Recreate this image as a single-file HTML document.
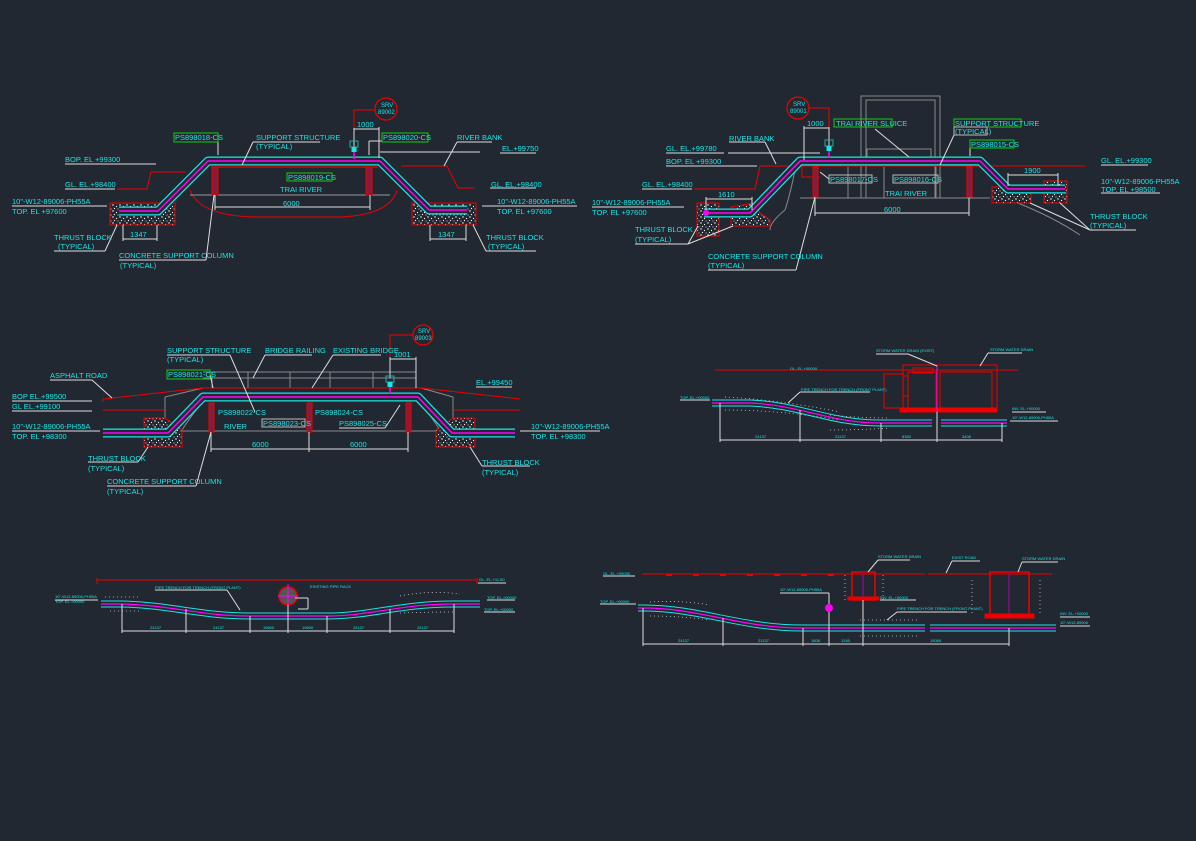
<!DOCTYPE html>
<html><head><meta charset="utf-8"><style>
html,body{margin:0;padding:0;background:#222831;}
svg{display:block}
text{font-family:"Liberation Sans",sans-serif;font-size:7.5px;fill:#19e6e6;}
.s{font-size:4px}
.w{fill:#d8d8d8}
</style></head><body>
<svg width="1196" height="841" viewBox="0 0 1196 841" xmlns="http://www.w3.org/2000/svg">
<defs>
<pattern id="sp" width="7" height="6" patternUnits="userSpaceOnUse">
<rect width="7" height="6" fill="#222831"/>
<circle cx="1" cy="1" r="0.7" fill="#fff"/><circle cx="4.5" cy="2.5" r="0.6" fill="#fff"/><circle cx="2.5" cy="4.5" r="0.6" fill="#fff"/><circle cx="6" cy="5" r="0.5" fill="#fff"/>
</pattern>
<g id="valve"><rect x="-4" y="-10" width="8" height="6" fill="none" stroke="#2aa" stroke-width="1"/><rect x="-2.5" y="-4" width="5" height="5" fill="#19e6e6"/><line x1="0" y1="1" x2="0" y2="8" stroke="#f0f" stroke-width="1.5"/></g>
</defs>
<rect width="1196" height="841" fill="#222831"/>

<!-- ================= DRAWING 1 ================= -->
<g fill="none">
<!-- ground red -->
<polyline points="117,189 147,189 151,172 186,172" stroke="#e00" stroke-width="1"/>
<polyline points="401,166 447,166 458,188 474,188" stroke="#e00" stroke-width="1"/>
<path d="M190,190 Q200,217 260,217 L340,217 Q390,215 397,190" stroke="#e00" stroke-width="1"/>
<line x1="211" y1="167" x2="378" y2="167" stroke="#e00" stroke-width="1.2"/>
<line x1="190" y1="195" x2="390" y2="195" stroke="#999" stroke-width="1"/>
<!-- thrust blocks -->
<rect x="110" y="203" width="65" height="22" fill="url(#sp)" stroke="#e00"/>
<rect x="412" y="203" width="64" height="22" fill="url(#sp)" stroke="#e00"/>
<!-- columns -->
<rect x="212" y="167" width="6" height="28" fill="#8a1a3a" stroke="#e00"/>
<rect x="366" y="167" width="6" height="28" fill="#8a1a3a" stroke="#e00"/>
<!-- pipe -->
<path d="M119,211 L158,211 L208,161 L380,161 L429,210 L467,210" stroke="#19e6e6" stroke-width="9" stroke-linejoin="round"/>
<path d="M119,211 L158,211 L208,161 L380,161 L429,210 L467,210" stroke="#222831" stroke-width="6.5" stroke-linejoin="round"/>
<path d="M119,211 L158,211 L208,161 L380,161 L429,210 L467,210" stroke="#f0f" stroke-width="1.5" stroke-linejoin="round"/>
<!-- dims -->
<g stroke="#ddd" stroke-width="1">
<line x1="215" y1="207" x2="370" y2="207"/><line x1="215" y1="195" x2="215" y2="210"/><line x1="370" y1="195" x2="370" y2="210"/>
<line x1="123" y1="239" x2="157" y2="239"/><line x1="123" y1="225" x2="123" y2="241"/><line x1="157" y1="225" x2="157" y2="241"/>
<line x1="430" y1="239" x2="466" y2="239"/><line x1="430" y1="225" x2="430" y2="241"/><line x1="466" y1="225" x2="466" y2="241"/>
<line x1="354" y1="129" x2="379" y2="129"/><line x1="354" y1="127" x2="354" y2="150"/><line x1="379" y1="127" x2="379" y2="158"/>
<!-- leaders / underlines -->
<line x1="65" y1="164" x2="156" y2="164"/><line x1="65" y1="189" x2="115" y2="189"/>
<line x1="12" y1="206" x2="107" y2="206"/><line x1="482" y1="206" x2="577" y2="206"/>
<line x1="54" y1="251" x2="105" y2="251"/><line x1="105" y1="251" x2="117" y2="225"/>
<line x1="486" y1="251" x2="536" y2="251"/><line x1="486" y1="251" x2="473" y2="225"/>
<line x1="119" y1="260" x2="206" y2="260"/><line x1="206" y1="260" x2="214" y2="195"/>
<line x1="253" y1="142" x2="320" y2="142"/><line x1="253" y1="142" x2="242" y2="165"/>
<line x1="457" y1="142" x2="492" y2="142"/><line x1="457" y1="142" x2="444" y2="166"/>
<line x1="380" y1="152" x2="480" y2="152"/><line x1="500" y1="153" x2="536" y2="153"/>
<line x1="490" y1="188" x2="536" y2="188"/>
<line x1="218" y1="141" x2="218" y2="155"/><line x1="382" y1="141" x2="369" y2="141"/><line x1="369" y1="141" x2="369" y2="155"/>
</g>
<!-- SRV -->
<circle cx="386" cy="109" r="11" stroke="#e00" stroke-width="1.2"/>
<polyline points="375,110 354,110 354,128" stroke="#e00"/>
<use href="#valve" x="354" y="151"/>
<!-- green boxes -->
<rect x="174" y="133" width="44" height="9" stroke="#1c1" stroke-width="1"/>
<rect x="382" y="133" width="46" height="9" stroke="#1c1" stroke-width="1"/>
<rect x="287" y="173" width="45" height="8" stroke="#1c1" stroke-width="1"/>
</g>
<text x="175" y="140">PS898018-CS</text><text x="383" y="140">PS898020-CS</text><text x="288" y="180">PS898019-CS</text>
<text x="381" y="107" style="font-size:6px">SRV</text><text x="378" y="114" style="font-size:6px">89002</text>
<text x="357" y="127">1000</text>
<text x="256" y="140">SUPPORT STRUCTURE</text><text x="256" y="149">(TYPICAL)</text>
<text x="457" y="140">RIVER BANK</text><text x="502" y="151">EL.+99750</text>
<text x="65" y="162">BOP. EL +99300</text><text x="65" y="187">GL. EL.+98400</text><text x="491" y="187">GL. EL.+98400</text>
<text x="280" y="192">TRAI RIVER</text><text x="283" y="206">6000</text>
<text x="12" y="204">10"-W12-89006-PH55A</text><text x="12" y="214">TOP. EL +97600</text>
<text x="497" y="204">10"-W12-89006-PH55A</text><text x="497" y="214">TOP. EL +97600</text>
<text x="130" y="237">1347</text><text x="438" y="237">1347</text>
<text x="54" y="240">THRUST BLOCK</text><text x="58" y="249">(TYPICAL)</text>
<text x="486" y="240">THRUST BLOCK</text><text x="488" y="249">(TYPICAL)</text>
<text x="119" y="258">CONCRETE SUPPORT COLUMN</text><text x="120" y="268">(TYPICAL)</text>

<!-- ================= DRAWING 2 ================= -->
<g fill="none">
<rect x="861" y="96" width="79" height="102" stroke="#888"/>
<rect x="866" y="100" width="69" height="98" stroke="#888"/>
<rect x="867" y="149" width="64" height="8" stroke="#888"/>
<line x1="800" y1="198" x2="990" y2="198" stroke="#888"/>
<line x1="848" y1="167" x2="848" y2="198" stroke="#888"/><line x1="884" y1="167" x2="884" y2="198" stroke="#888"/><line x1="936" y1="167" x2="936" y2="198" stroke="#888"/>
<polyline points="694,189 755,189 760,166 1085,166" stroke="#e00"/>
<polyline points="802,166 802,177 820,177" stroke="#e00"/>
<path d="M795,170 Q790,195 785,210 Q770,222 770,230" stroke="#888"/>
<path d="M1010,200 Q1050,215 1080,235" stroke="#888"/>
<rect x="697" y="203" width="22" height="33" fill="url(#sp)" stroke="#e00"/>
<path d="M731,207 L754,203 L760,213 L770,220 L770,226 L731,226 Z" fill="url(#sp)" stroke="#e00"/>
<rect x="992" y="187" width="39" height="16" fill="url(#sp)" stroke="#e00"/>
<rect x="1044" y="181" width="23" height="22" fill="url(#sp)" stroke="#e00"/>
<rect x="813" y="167" width="5" height="30" fill="#8a1a3a" stroke="#e00"/>
<rect x="967" y="167" width="5" height="30" fill="#8a1a3a" stroke="#e00"/>
<path d="M704,213 L750,213 L800,161 L980,161 L1008,189 L1065,189" stroke="#19e6e6" stroke-width="9" stroke-linejoin="round"/>
<path d="M704,213 L750,213 L800,161 L980,161 L1008,189 L1065,189" stroke="#222831" stroke-width="6.5" stroke-linejoin="round"/>
<path d="M704,213 L750,213 L800,161 L980,161 L1008,189 L1065,189" stroke="#f0f" stroke-width="1.5" stroke-linejoin="round"/>
<circle cx="706" cy="213" r="3" fill="#f0f"/>
<g stroke="#ddd">
<line x1="815" y1="213" x2="969" y2="213"/><line x1="815" y1="198" x2="815" y2="216"/><line x1="969" y1="198" x2="969" y2="216"/>
<line x1="706" y1="199" x2="752" y2="199"/><line x1="706" y1="197" x2="706" y2="210"/><line x1="752" y1="197" x2="752" y2="210"/>
<line x1="1008" y1="175" x2="1058" y2="175"/><line x1="1008" y1="173" x2="1008" y2="186"/><line x1="1058" y1="173" x2="1058" y2="186"/>
<line x1="804" y1="128" x2="829" y2="128"/><line x1="804" y1="126" x2="804" y2="160"/><line x1="829" y1="126" x2="829" y2="150"/>
<line x1="666" y1="153" x2="724" y2="153"/><line x1="728" y1="153" x2="820" y2="153"/>
<line x1="666" y1="166" x2="757" y2="166"/><line x1="642" y1="189" x2="692" y2="189"/>
<line x1="592" y1="207" x2="684" y2="207"/>
<line x1="729" y1="142" x2="765" y2="142"/><line x1="765" y1="142" x2="776" y2="164"/>
<line x1="635" y1="244" x2="688" y2="244"/><line x1="688" y1="244" x2="698" y2="226"/><line x1="688" y1="244" x2="733" y2="226"/>
<line x1="1090" y1="230" x2="1136" y2="230"/><line x1="1090" y1="230" x2="1030" y2="203"/><line x1="1090" y1="230" x2="1060" y2="203"/>
<line x1="708" y1="270" x2="796" y2="270"/><line x1="796" y1="270" x2="815" y2="197"/>
<line x1="1101" y1="165" x2="1148" y2="165"/><line x1="1101" y1="193" x2="1160" y2="193"/>
<line x1="875" y1="129" x2="909" y2="157"/><line x1="954" y1="135" x2="940" y2="165"/>
<line x1="970" y1="148" x2="970" y2="156"/>
<line x1="829" y1="179" x2="820" y2="172"/>
</g>
<circle cx="798" cy="108" r="11" stroke="#e00" stroke-width="1.2"/>
<polyline points="809,108 829,108 829,127" stroke="#e00"/>
<use href="#valve" x="829" y="150"/>
<rect x="834" y="119" width="58" height="8" stroke="#1c1"/>
<rect x="954" y="119" width="67" height="8" stroke="#1c1"/>
<rect x="954" y="127" width="33" height="8" stroke="#bbb"/>
<rect x="970" y="140" width="44" height="8" stroke="#1c1"/>
<rect x="829" y="175" width="43" height="8" stroke="#bbb"/>
<rect x="893" y="175" width="45" height="8" stroke="#bbb"/>
</g>
<text x="793" y="106" style="font-size:6px">SRV</text><text x="790" y="113" style="font-size:6px">89001</text>
<text x="807" y="126">1000</text>
<text x="836" y="126">TRAI RIVER SLUICE</text><text x="955" y="126">SUPPORT STRUCTURE</text><text x="955" y="134">(TYPICAL)</text>
<text x="971" y="147">PS898015-CS</text><text x="830" y="182">PS898017-CS</text><text x="894" y="182">PS898016-CS</text>
<text x="729" y="141">RIVER BANK</text><text x="666" y="151">GL. EL.+99780</text><text x="666" y="164">BOP. EL +99300</text>
<text x="642" y="187">GL. EL.+98400</text><text x="885" y="196">TRAI RIVER</text><text x="884" y="212">6000</text>
<text x="592" y="205">10"-W12-89006-PH55A</text><text x="592" y="215">TOP. EL +97600</text>
<text x="718" y="197">1610</text><text x="1024" y="173">1900</text>
<text x="635" y="232">THRUST BLOCK</text><text x="635" y="242">(TYPICAL)</text>
<text x="1090" y="219">THRUST BLOCK</text><text x="1090" y="228">(TYPICAL)</text>
<text x="708" y="259">CONCRETE SUPPORT COLUMN</text><text x="708" y="268">(TYPICAL)</text>
<text x="1101" y="163">GL. EL.+99300</text>
<text x="1101" y="184">10"-W12-89006-PH55A</text><text x="1101" y="192">TOP. EL +98500</text>

<!-- ================= DRAWING 3 ================= -->
<g fill="none">
<g stroke="#888">
<line x1="203" y1="372" x2="416" y2="372"/><line x1="203" y1="378" x2="416" y2="378"/>
<line x1="212" y1="372" x2="212" y2="388"/><line x1="248" y1="372" x2="248" y2="388"/><line x1="290" y1="372" x2="290" y2="388"/><line x1="330" y1="372" x2="330" y2="388"/><line x1="373" y1="372" x2="373" y2="388"/><line x1="416" y1="372" x2="416" y2="388"/>
<line x1="165" y1="397" x2="165" y2="432"/><line x1="453" y1="397" x2="453" y2="432"/>
<line x1="165" y1="397" x2="203" y2="388"/><line x1="453" y1="397" x2="421" y2="388"/>
<line x1="165" y1="431" x2="453" y2="431"/>
<path d="M182,430 Q195,410 205,400"/><path d="M420,402 Q430,415 440,430"/>
</g>
<g stroke="#e00">
<polyline points="103,399 203,388 421,388 520,399"/>
<line x1="103" y1="410" x2="165" y2="410"/><line x1="453" y1="410" x2="520" y2="410"/>
<line x1="103" y1="399" x2="103" y2="402"/>
</g>
<path d="M144,418 L165,418 L182,430 L182,447 L144,447 Z" fill="url(#sp)" stroke="#e00"/>
<path d="M436,430 L453,418 L475,418 L475,447 L436,447 Z" fill="url(#sp)" stroke="#e00"/>
<rect x="209" y="403" width="5" height="29" fill="#8a1a3a" stroke="#e00"/>
<rect x="307" y="403" width="5" height="29" fill="#8a1a3a" stroke="#e00"/>
<rect x="406" y="403" width="5" height="29" fill="#8a1a3a" stroke="#e00"/>
<line x1="207" y1="401" x2="415" y2="401" stroke="#e00"/>
<path d="M103,433 L168,433 L203,397 L418,397 L452,433 L515,433" stroke="#19e6e6" stroke-width="9" stroke-linejoin="round"/>
<path d="M103,433 L168,433 L203,397 L418,397 L452,433 L515,433" stroke="#222831" stroke-width="6.5" stroke-linejoin="round"/>
<path d="M103,433 L168,433 L203,397 L418,397 L452,433 L515,433" stroke="#f0f" stroke-width="1.5" stroke-linejoin="round"/>
<g stroke="#ddd">
<line x1="211" y1="449" x2="408" y2="449"/><line x1="211" y1="432" x2="211" y2="452"/><line x1="309" y1="432" x2="309" y2="452"/><line x1="408" y1="432" x2="408" y2="452"/>
<line x1="390" y1="359" x2="416" y2="359"/><line x1="390" y1="357" x2="390" y2="378"/><line x1="416" y1="357" x2="416" y2="388"/>
<line x1="12" y1="401" x2="92" y2="401"/><line x1="12" y1="411" x2="92" y2="411"/><line x1="12" y1="431" x2="100" y2="431"/>
<line x1="476" y1="387" x2="512" y2="387"/><line x1="520" y1="431" x2="600" y2="431"/>
<line x1="50" y1="380" x2="92" y2="380"/><line x1="92" y1="380" x2="112" y2="398"/>
<line x1="167" y1="355" x2="230" y2="355"/><line x1="230" y1="355" x2="255" y2="412"/>
<line x1="265" y1="355" x2="312" y2="355"/><line x1="265" y1="355" x2="253" y2="378"/>
<line x1="333" y1="355" x2="381" y2="355"/><line x1="333" y1="355" x2="312" y2="388"/>
<line x1="210" y1="374" x2="213" y2="388"/>
<line x1="88" y1="462" x2="138" y2="462"/><line x1="138" y1="462" x2="148" y2="447"/>
<line x1="482" y1="466" x2="530" y2="466"/><line x1="482" y1="466" x2="470" y2="447"/>
<line x1="107" y1="486" x2="196" y2="486"/><line x1="196" y1="486" x2="211" y2="432"/>
<line x1="339" y1="428" x2="385" y2="428"/><line x1="385" y1="428" x2="400" y2="405"/>
</g>
<circle cx="423" cy="335" r="10" stroke="#e00" stroke-width="1.2"/>
<polyline points="413,335 390,335 390,356" stroke="#e00"/>
<use href="#valve" x="390" y="386"/>
<rect x="167" y="370" width="43" height="9" stroke="#1c1"/>
<rect x="262" y="419" width="43" height="8" stroke="#bbb"/>
</g>
<text x="418" y="333" style="font-size:6px">SRV</text><text x="415" y="340" style="font-size:6px">89003</text>
<text x="394" y="357">1001</text>
<text x="167" y="353">SUPPORT STRUCTURE</text><text x="167" y="362">(TYPICAL)</text>
<text x="265" y="353">BRIDGE RAILING</text><text x="333" y="353">EXISTING BRIDGE</text>
<text x="50" y="378">ASPHALT ROAD</text><text x="168" y="377">PS898021-CS</text>
<text x="12" y="399">BOP EL.+99500</text><text x="12" y="409">GL EL.+99100</text>
<text x="12" y="429">10"-W12-89006-PH55A</text><text x="12" y="439">TOP. EL +98300</text>
<text x="476" y="385">EL.+99450</text>
<text x="531" y="429">10"-W12-89006-PH55A</text><text x="531" y="439">TOP. EL +98300</text>
<text x="218" y="415">PS898022-CS</text><text x="263" y="426">PS898023-CS</text><text x="315" y="415">PS898024-CS</text><text x="339" y="426">PS898025-CS</text>
<text x="224" y="429">RIVER</text><text x="252" y="447">6000</text><text x="350" y="447">6000</text>
<text x="88" y="461">THRUST BLOCK</text><text x="88" y="471">(TYPICAL)</text>
<text x="482" y="465">THRUST BLOCK</text><text x="482" y="475">(TYPICAL)</text>
<text x="107" y="484">CONCRETE SUPPORT COLUMN</text><text x="107" y="494">(TYPICAL)</text>

<!-- ================= DRAWING 4 ================= -->
<g fill="none">
<line x1="715" y1="370" x2="1018" y2="370" stroke="#e00"/>
<g stroke="#e00">
<rect x="903" y="365" width="94" height="47"/><rect x="908" y="372" width="28" height="36"/><rect x="940" y="372" width="52" height="36"/>
<rect x="903" y="376" width="5" height="20"/><rect x="884" y="374" width="19" height="34"/>
<rect x="913" y="368" width="20" height="5"/>
<rect x="900" y="408" width="96" height="4" fill="#e00"/>
</g>
<line x1="937" y1="365" x2="937" y2="412" stroke="#f0f"/>
<path d="M712,403 L750,403 C800,405 830,423 880,423 L932,423" stroke="#19e6e6" stroke-width="7"/>
<path d="M712,403 L750,403 C800,405 830,423 880,423 L932,423" stroke="#222831" stroke-width="5"/>
<path d="M712,403 L750,403 C800,405 830,423 880,423 L932,423" stroke="#f0f" stroke-width="1.2"/>
<path d="M941,423 L1007,423" stroke="#19e6e6" stroke-width="7"/><path d="M941,423 L1007,423" stroke="#222831" stroke-width="5"/><path d="M941,423 L1007,423" stroke="#f0f" stroke-width="1.2"/>
<g stroke="#ccc" stroke-width="0.8" stroke-dasharray="1 3">
<path d="M725,397 Q780,400 840,412"/><path d="M725,410 Q780,410 840,420"/><path d="M830,415 Q860,418 890,418"/><path d="M830,430 Q860,430 890,428"/>
</g>
<g stroke="#ddd">
<line x1="720" y1="440" x2="1002" y2="440"/>
<line x1="720" y1="403" x2="720" y2="442"/><line x1="800" y1="410" x2="800" y2="442"/><line x1="881" y1="423" x2="881" y2="442"/><line x1="937" y1="412" x2="937" y2="442"/><line x1="1002" y1="423" x2="1002" y2="442"/>
<line x1="680" y1="400" x2="710" y2="400"/><line x1="800" y1="392" x2="870" y2="392"/><line x1="800" y1="392" x2="788" y2="403"/>
<line x1="876" y1="354" x2="908" y2="354"/><line x1="908" y1="354" x2="937" y2="366"/>
<line x1="988" y1="353" x2="1022" y2="353"/><line x1="988" y1="353" x2="980" y2="366"/>
<line x1="1012" y1="412" x2="1046" y2="412"/><line x1="1010" y1="421" x2="1058" y2="421"/>
</g>
</g>
<text class="s" x="790" y="370">GL. EL.+00000</text><text class="s" x="680" y="399">TOP. EL.+00000</text>
<text class="s" x="801" y="391">PIPE TRENCH FOR TRENCH (FRONT PLANT)</text>
<text class="s" x="876" y="352">STORM WATER DRAIN (EXIST)</text><text class="s" x="990" y="351">STORM WATER DRAIN</text>
<text class="s" x="1012" y="410">INV. EL.+00000</text><text class="s" x="1012" y="419">10"-W12-89006-PH55A</text>
<text class="s" x="755" y="438">24137</text><text class="s" x="835" y="438">21137</text><text class="s" x="902" y="438">8383</text><text class="s" x="962" y="438">3408</text>

<!-- ================= DRAWING 5 ================= -->
<g fill="none">
<line x1="97" y1="580" x2="477" y2="580" stroke="#e00"/>
<line x1="97" y1="578" x2="97" y2="584" stroke="#e00"/><line x1="477" y1="578" x2="477" y2="584" stroke="#e00"/>
<path d="M101,604 L122,604 C170,605 200,616 250,616 L327,616 C370,616 400,604 453,604 L480,604" stroke="#19e6e6" stroke-width="7"/>
<path d="M101,604 L122,604 C170,605 200,616 250,616 L327,616 C370,616 400,604 453,604 L480,604" stroke="#222831" stroke-width="5"/>
<path d="M101,604 L122,604 C170,605 200,616 250,616 L327,616 C370,616 400,604 453,604 L480,604" stroke="#f0f" stroke-width="1.2"/>
<circle cx="288" cy="596" r="9" fill="#555" stroke="#e00" stroke-width="1.5"/>
<line x1="278" y1="596" x2="298" y2="596" stroke="#f0f"/><line x1="288" y1="584" x2="288" y2="631" stroke="#f0f"/>
<g stroke="#ccc" stroke-width="0.8" stroke-dasharray="1 3">
<path d="M105,597 L140,597"/><path d="M110,611 L140,611"/><path d="M400,596 Q430,590 460,594"/><path d="M400,613 Q430,612 455,612"/>
</g>
<g stroke="#ddd">
<line x1="122" y1="631" x2="454" y2="631"/>
<line x1="122" y1="604" x2="122" y2="633"/><line x1="186" y1="609" x2="186" y2="633"/><line x1="250" y1="616" x2="250" y2="633"/><line x1="288" y1="605" x2="288" y2="633"/><line x1="327" y1="616" x2="327" y2="633"/><line x1="390" y1="609" x2="390" y2="633"/><line x1="454" y1="604" x2="454" y2="633"/>
<line x1="55" y1="600" x2="98" y2="600"/><line x1="155" y1="590" x2="227" y2="590"/><line x1="227" y1="590" x2="240" y2="610"/>
<line x1="295" y1="598" x2="308" y2="598"/><line x1="308" y1="598" x2="308" y2="609"/><line x1="298" y1="609" x2="308" y2="609"/>
<line x1="478" y1="583" x2="506" y2="583"/><line x1="487" y1="600" x2="515" y2="600"/><line x1="484" y1="612" x2="515" y2="612"/>
</g>
</g>
<text class="s" x="55" y="598">10"-W12-89006-PH55A</text><text class="s" x="55" y="603">TOP. EL.+00000</text>
<text class="s" x="155" y="589">PIPE TRENCH FOR TRENCH (FRONT PLANT)</text>
<text class="s" x="310" y="588">EXISTING PIPE RACK</text>
<text class="s" x="479" y="581">GL. EL.+11.50</text><text class="s" x="487" y="599">TOP. EL.+00000</text><text class="s" x="484" y="611">TOP. EL.+00000</text>
<text class="s" x="150" y="629">24137</text><text class="s" x="213" y="629">24137</text><text class="s" x="263" y="629">19600</text><text class="s" x="302" y="629">19600</text><text class="s" x="353" y="629">24137</text><text class="s" x="417" y="629">24137</text>

<!-- ================= DRAWING 6 ================= -->
<g fill="none">
<line x1="642" y1="574" x2="925" y2="574" stroke="#e00"/><line x1="928" y1="574" x2="1052" y2="574" stroke="#e00"/>
<g fill="#e00"><rect x="666" y="574" width="6" height="2"/><rect x="693" y="574" width="6" height="2"/><rect x="720" y="574" width="6" height="2"/><rect x="747" y="574" width="6" height="2"/><rect x="774" y="574" width="6" height="2"/><rect x="801" y="574" width="6" height="2"/><rect x="828" y="574" width="6" height="2"/></g>
<rect x="852" y="572" width="23" height="28" stroke="#e00" stroke-width="1.5"/>
<rect x="848" y="597" width="31" height="3" fill="#e00" stroke="#e00"/>
<line x1="863" y1="574" x2="863" y2="597" stroke="#a0a"/>
<rect x="990" y="572" width="39" height="45" stroke="#e00" stroke-width="1.5"/>
<rect x="985" y="614" width="49" height="4" fill="#e00" stroke="#e00"/>
<line x1="1009" y1="574" x2="1009" y2="614" stroke="#a0a"/>
<path d="M638,608 L643,608 C700,608 740,628 803,628 L925,628" stroke="#19e6e6" stroke-width="7"/>
<path d="M638,608 L643,608 C700,608 740,628 803,628 L925,628" stroke="#222831" stroke-width="5"/>
<path d="M638,608 L643,608 C700,608 740,628 803,628 L925,628" stroke="#f0f" stroke-width="1.2"/>
<path d="M930,628 L1056,628" stroke="#19e6e6" stroke-width="7"/><path d="M930,628 L1056,628" stroke="#222831" stroke-width="5"/><path d="M930,628 L1056,628" stroke="#f0f" stroke-width="1.2"/>
<circle cx="829" cy="608" r="4" fill="#f0f"/>
<g stroke="#ccc" stroke-width="0.8" stroke-dasharray="1 3">
<path d="M650,602 Q680,600 710,605"/><path d="M650,616 Q680,616 710,620"/><path d="M845,575 L845,600"/><path d="M883,575 L883,600"/><path d="M972,580 L972,615"/><path d="M1040,580 L1040,615"/><path d="M860,620 L920,620"/><path d="M860,636 L920,636"/>
</g>
<g stroke="#ddd">
<line x1="643" y1="644" x2="1009" y2="644"/>
<line x1="643" y1="608" x2="643" y2="646"/><line x1="723" y1="618" x2="723" y2="646"/><line x1="803" y1="628" x2="803" y2="646"/><line x1="829" y1="612" x2="829" y2="646"/><line x1="863" y1="600" x2="863" y2="646"/><line x1="1009" y1="628" x2="1009" y2="646"/>
<line x1="603" y1="576" x2="635" y2="576"/><line x1="600" y1="604" x2="636" y2="604"/>
<line x1="780" y1="593" x2="829" y2="593"/><line x1="829" y1="593" x2="829" y2="604"/>
<line x1="880" y1="600" x2="916" y2="600"/><line x1="897" y1="612" x2="967" y2="612"/><line x1="897" y1="612" x2="887" y2="620"/>
<line x1="878" y1="560" x2="910" y2="560"/><line x1="878" y1="560" x2="868" y2="572"/>
<line x1="952" y1="561" x2="980" y2="561"/><line x1="952" y1="561" x2="946" y2="573"/>
<line x1="1022" y1="562" x2="1058" y2="562"/><line x1="1022" y1="562" x2="1018" y2="572"/>
<line x1="1060" y1="617" x2="1090" y2="617"/><line x1="1060" y1="626" x2="1090" y2="626"/>
</g>
</g>
<text class="s" x="603" y="575">GL. EL.+00000</text><text class="s" x="600" y="603">TOP. EL.+00000</text>
<text class="s" x="780" y="591">10"-W12-89006-PH55A</text><text class="s" x="880" y="599">INV. EL.+00000</text>
<text class="s" x="897" y="610">PIPE TRENCH FOR TRENCH (FRONT PLANT)</text>
<text class="s" x="878" y="558">STORM WATER DRAIN</text><text class="s" x="952" y="559">EXIST ROAD</text><text class="s" x="1022" y="560">STORM WATER DRAIN</text>
<text class="s" x="1060" y="615">INV. EL.+00000</text><text class="s" x="1060" y="624">10"-W12-89006</text>
<text class="s" x="678" y="642">24137</text><text class="s" x="758" y="642">21137</text><text class="s" x="811" y="642">1808</text><text class="s" x="841" y="642">1345</text><text class="s" x="930" y="642">15065</text>
</svg>
</body></html>
